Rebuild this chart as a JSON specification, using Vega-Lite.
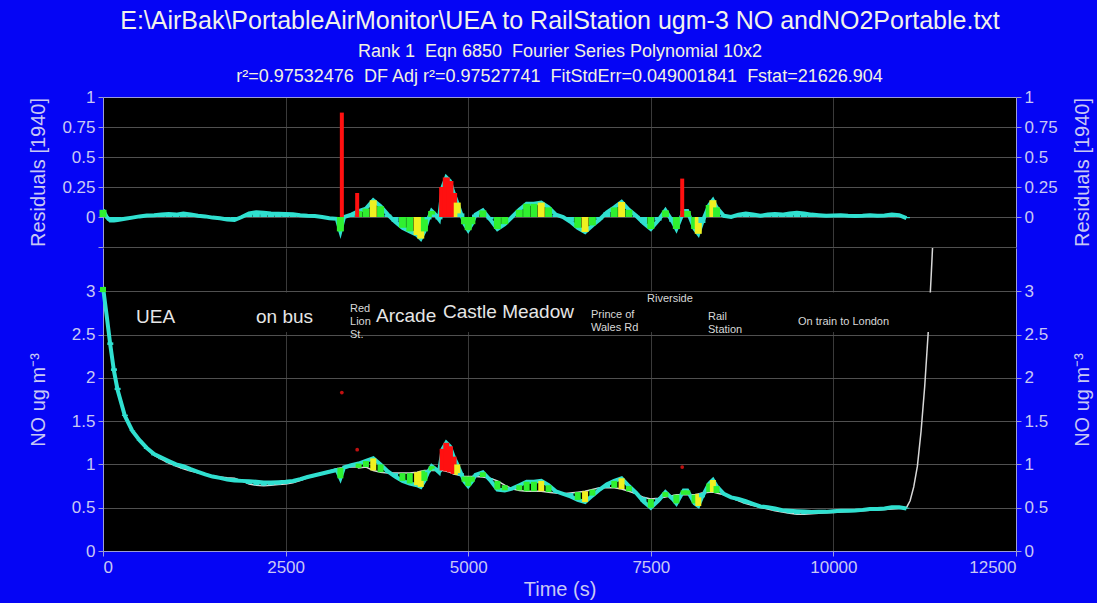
{
"$schema": "https://vega.github.io/schema/vega-lite/v6.json",
"background": "#0505f5",
"padding": {"left": 28, "top": 9, "right": 5, "bottom": 4},
"spacing": 0,
"config": {
  "font": "Liberation Sans",
  "view": {"fill": "#000000", "stroke": null},
  "axis": {"labelColor": "#c8c8f4", "titleColor": "#c8c8f4", "labelFontSize": 17, "titleFontSize": 20, "titleFontWeight": "normal", "domainColor": "#9c9cd8", "tickColor": "#9c9cd8", "gridColor": "#505050", "gridWidth": 1, "labelFont": "Liberation Sans", "titleFont": "Liberation Sans", "tickSize": 5, "labelPadding": 3}
},
"title": {"text": "E:\\AirBak\\PortableAirMonitor\\UEA to RailStation ugm-3 NO andNO2Portable.txt", "subtitle": "Rank 1 \u00a0Eqn 6850 \u00a0Fourier Series Polynomial 10x2", "fontSize": 25, "fontWeight": "normal", "color": "#f2f2ea", "subtitleFontSize": 18, "subtitleColor": "#f2f2e0", "subtitlePadding": 9, "anchor": "middle", "offset": 7, "font": "Liberation Sans", "subtitleFont": "Liberation Sans"},
"datasets": {
  "d": [
    {"t":0,"y":3.05,"f":2.99,"r":0.06},
    {"t":50,"y":2.72,"f":2.72,"r":0},
    {"t":100,"y":2.38,"f":2.41,"r":-0.03},
    {"t":150,"y":2.08,"f":2.11,"r":-0.03},
    {"t":200,"y":1.86,"f":1.885,"r":-0.025},
    {"t":300,"y":1.56,"f":1.575,"r":-0.015},
    {"t":400,"y":1.39,"f":1.395,"r":-0.005},
    {"t":500,"y":1.28,"f":1.275,"r":0.005},
    {"t":600,"y":1.19,"f":1.178,"r":0.012},
    {"t":700,"y":1.12,"f":1.105,"r":0.015},
    {"t":800,"y":1.08,"f":1.06,"r":0.02},
    {"t":900,"y":1.04,"f":1.015,"r":0.025},
    {"t":1000,"y":1.0,"f":0.98,"r":0.02},
    {"t":1100,"y":0.98,"f":0.95,"r":0.03},
    {"t":1200,"y":0.945,"f":0.923,"r":0.022},
    {"t":1300,"y":0.915,"f":0.905,"r":0.01},
    {"t":1400,"y":0.885,"f":0.88,"r":0.005},
    {"t":1500,"y":0.86,"f":0.865,"r":-0.005},
    {"t":1600,"y":0.845,"f":0.855,"r":-0.01},
    {"t":1700,"y":0.825,"f":0.845,"r":-0.02},
    {"t":1800,"y":0.815,"f":0.84,"r":-0.025},
    {"t":1900,"y":0.81,"f":0.81,"r":0},
    {"t":2000,"y":0.805,"f":0.775,"r":0.03},
    {"t":2100,"y":0.8,"f":0.76,"r":0.04},
    {"t":2200,"y":0.79,"f":0.755,"r":0.035},
    {"t":2300,"y":0.79,"f":0.76,"r":0.03},
    {"t":2400,"y":0.795,"f":0.767,"r":0.028},
    {"t":2500,"y":0.8,"f":0.775,"r":0.025},
    {"t":2600,"y":0.81,"f":0.788,"r":0.022},
    {"t":2700,"y":0.83,"f":0.815,"r":0.015},
    {"t":2800,"y":0.855,"f":0.845,"r":0.01},
    {"t":2900,"y":0.875,"f":0.867,"r":0.008},
    {"t":3000,"y":0.895,"f":0.895,"r":0},
    {"t":3100,"y":0.915,"f":0.925,"r":-0.01},
    {"t":3200,"y":0.935,"f":0.95,"r":-0.015},
    {"t":3250,"y":0.84,"f":0.96,"r":-0.12},
    {"t":3270,"y":1.83,"f":0.96,"r":0.87,"iso":1},
    {"t":3300,"y":0.965,"f":0.965,"r":0},
    {"t":3400,"y":0.99,"f":0.97,"r":0.02},
    {"t":3480,"y":1.17,"f":0.97,"r":0.2,"iso":1},
    {"t":3500,"y":1.01,"f":0.96,"r":0.05},
    {"t":3600,"y":1.04,"f":0.97,"r":0.07},
    {"t":3700,"y":1.07,"f":0.93,"r":0.14},
    {"t":3800,"y":1.0,"f":0.91,"r":0.09},
    {"t":3900,"y":0.92,"f":0.9,"r":0.02},
    {"t":4000,"y":0.86,"f":0.9,"r":-0.04},
    {"t":4100,"y":0.81,"f":0.9,"r":-0.09},
    {"t":4200,"y":0.78,"f":0.9,"r":-0.12},
    {"t":4300,"y":0.76,"f":0.91,"r":-0.15},
    {"t":4350,"y":0.74,"f":0.92,"r":-0.18},
    {"t":4400,"y":0.81,"f":0.93,"r":-0.12},
    {"t":4450,"y":0.91,"f":0.93,"r":-0.02},
    {"t":4500,"y":0.98,"f":0.93,"r":0.05},
    {"t":4550,"y":0.95,"f":0.93,"r":0.02},
    {"t":4600,"y":0.91,"f":0.93,"r":-0.02},
    {"t":4650,"y":1.18,"f":0.93,"r":0.25},
    {"t":4700,"y":1.25,"f":0.92,"r":0.33},
    {"t":4750,"y":1.21,"f":0.91,"r":0.3},
    {"t":4800,"y":1.09,"f":0.89,"r":0.2},
    {"t":4850,"y":1.0,"f":0.88,"r":0.12},
    {"t":4900,"y":0.9,"f":0.87,"r":0.03},
    {"t":4950,"y":0.8,"f":0.86,"r":-0.06},
    {"t":5000,"y":0.75,"f":0.86,"r":-0.11},
    {"t":5050,"y":0.8,"f":0.86,"r":-0.06},
    {"t":5100,"y":0.88,"f":0.86,"r":0.02},
    {"t":5200,"y":0.91,"f":0.855,"r":0.055},
    {"t":5300,"y":0.82,"f":0.84,"r":-0.02},
    {"t":5400,"y":0.71,"f":0.81,"r":-0.1},
    {"t":5500,"y":0.7,"f":0.76,"r":-0.06},
    {"t":5600,"y":0.72,"f":0.72,"r":0},
    {"t":5700,"y":0.76,"f":0.7,"r":0.06},
    {"t":5800,"y":0.8,"f":0.69,"r":0.11},
    {"t":5900,"y":0.8,"f":0.69,"r":0.11},
    {"t":6000,"y":0.81,"f":0.69,"r":0.12},
    {"t":6100,"y":0.76,"f":0.68,"r":0.08},
    {"t":6200,"y":0.69,"f":0.67,"r":0.02},
    {"t":6300,"y":0.66,"f":0.66,"r":0},
    {"t":6400,"y":0.63,"f":0.67,"r":-0.04},
    {"t":6500,"y":0.59,"f":0.68,"r":-0.09},
    {"t":6600,"y":0.565,"f":0.69,"r":-0.125},
    {"t":6700,"y":0.64,"f":0.71,"r":-0.07},
    {"t":6800,"y":0.71,"f":0.73,"r":-0.02},
    {"t":6900,"y":0.77,"f":0.73,"r":0.04},
    {"t":7000,"y":0.81,"f":0.73,"r":0.08},
    {"t":7100,"y":0.84,"f":0.715,"r":0.125},
    {"t":7200,"y":0.75,"f":0.69,"r":0.06},
    {"t":7300,"y":0.67,"f":0.66,"r":0.01},
    {"t":7400,"y":0.57,"f":0.62,"r":-0.05},
    {"t":7500,"y":0.5,"f":0.6,"r":-0.1},
    {"t":7600,"y":0.58,"f":0.61,"r":-0.03},
    {"t":7700,"y":0.68,"f":0.625,"r":0.055},
    {"t":7800,"y":0.6,"f":0.64,"r":-0.04},
    {"t":7850,"y":0.55,"f":0.65,"r":-0.1},
    {"t":7930,"y":0.97,"f":0.65,"r":0.32,"iso":1},
    {"t":7950,"y":0.7,"f":0.65,"r":0.05},
    {"t":8000,"y":0.7,"f":0.65,"r":0.05},
    {"t":8100,"y":0.55,"f":0.65,"r":-0.1},
    {"t":8150,"y":0.52,"f":0.66,"r":-0.14},
    {"t":8200,"y":0.62,"f":0.67,"r":-0.05},
    {"t":8300,"y":0.78,"f":0.68,"r":0.1},
    {"t":8350,"y":0.82,"f":0.68,"r":0.14},
    {"t":8400,"y":0.75,"f":0.67,"r":0.08},
    {"t":8500,"y":0.66,"f":0.65,"r":0.01},
    {"t":8600,"y":0.62,"f":0.62,"r":0},
    {"t":8700,"y":0.6,"f":0.58,"r":0.02},
    {"t":8800,"y":0.575,"f":0.547,"r":0.028},
    {"t":8900,"y":0.545,"f":0.525,"r":0.02},
    {"t":9000,"y":0.515,"f":0.505,"r":0.01},
    {"t":9100,"y":0.505,"f":0.485,"r":0.02},
    {"t":9200,"y":0.49,"f":0.465,"r":0.025},
    {"t":9300,"y":0.47,"f":0.45,"r":0.02},
    {"t":9400,"y":0.465,"f":0.435,"r":0.03},
    {"t":9500,"y":0.46,"f":0.425,"r":0.035},
    {"t":9600,"y":0.455,"f":0.425,"r":0.03},
    {"t":9700,"y":0.45,"f":0.43,"r":0.02},
    {"t":9800,"y":0.452,"f":0.437,"r":0.015},
    {"t":9900,"y":0.452,"f":0.442,"r":0.01},
    {"t":10000,"y":0.458,"f":0.446,"r":0.012},
    {"t":10100,"y":0.465,"f":0.45,"r":0.015},
    {"t":10200,"y":0.465,"f":0.455,"r":0.01},
    {"t":10300,"y":0.468,"f":0.46,"r":0.008},
    {"t":10400,"y":0.475,"f":0.465,"r":0.01},
    {"t":10500,"y":0.485,"f":0.47,"r":0.015},
    {"t":10600,"y":0.485,"f":0.475,"r":0.01},
    {"t":10700,"y":0.492,"f":0.48,"r":0.012},
    {"t":10800,"y":0.505,"f":0.485,"r":0.02},
    {"t":10900,"y":0.505,"f":0.49,"r":0.015},
    {"t":11000,"y":0.49,"f":0.5,"r":-0.01},
    {"t":11050,"f":0.58},
    {"t":11100,"f":0.74},
    {"t":11150,"f":0.98},
    {"t":11200,"f":1.38},
    {"t":11250,"f":1.9},
    {"t":11300,"f":2.55},
    {"t":11340,"f":3.2},
    {"t":11380,"f":3.9}
  ],
  "labels": [
    {"t": 452, "v": 2.70, "text": "UEA", "kind": "big"},
    {"t": 2095, "v": 2.70, "text": "on bus", "kind": "big"},
    {"t": 3738, "v": 2.72, "text": "Arcade", "kind": "big"},
    {"t": 4655, "v": 2.76, "text": "Castle Meadow", "kind": "big"},
    {"t": 3382, "v": 2.79, "text": "Red\nLion\nSt.", "kind": "small"},
    {"t": 6681, "v": 2.73, "text": "Prince of\nWales Rd", "kind": "small"},
    {"t": 7448, "v": 2.91, "text": "Riverside", "kind": "small"},
    {"t": 8283, "v": 2.70, "text": "Rail\nStation", "kind": "small"},
    {"t": 9515, "v": 2.64, "text": "On train to London", "kind": "small"}
  ],
  "band": [
    {"t0": 200, "t1": 12500, "v0": 2.53, "v1": 2.985}
  ]
},
"vconcat": [
  {
    "width": 913, "height": 150,
    "title": {"text": "r²=0.97532476 \u00a0DF Adj r²=0.97527741 \u00a0FitStdErr=0.049001841 \u00a0Fstat=21626.904", "fontSize": 18, "fontWeight": "normal", "color": "#f2f2e0", "offset": 2, "anchor": "middle", "font": "Liberation Sans"},
    "data": {"name": "d"},
    "resolve": {"scale": {"y": "independent"}},
    "layer": [
      {
        "transform": [{"filter": "isValid(datum.r) && !datum.iso"}],
        "mark": {"type": "line", "color": "#30e0d0", "strokeWidth": 4},
        "encoding": {
          "x": {"field": "t", "type": "quantitative", "scale": {"domain": [0, 12500], "nice": false},
                "axis": {"orient": "top", "values": [0, 2500, 5000, 7500, 10000, 12500], "labels": false, "ticks": false, "title": null, "grid": true, "gridColor": "#3a3a3a"}},
          "y": {"field": "r", "type": "quantitative", "scale": {"domain": [-0.25, 1], "nice": false, "zero": false},
                "axis": {"orient": "right", "values": [0, 0.25, 0.5, 0.75, 1], "labelExpr": "'' + datum.value", "grid": false, "title": "Residuals [1940]", "titleX": 66, "titleAngle": 270, "titleBaseline": "middle"}}
        }
      },
      {
        "transform": [{"filter": "isValid(datum.r) && !datum.iso"}],
        "mark": {"type": "rule", "strokeWidth": 7},
        "encoding": {
          "x": {"field": "t", "type": "quantitative", "title": null},
          "y": {"field": "r", "type": "quantitative", "scale": {"domain": [-0.25, 1], "nice": false, "zero": false},
                "axis": {"orient": "left", "values": [-0.25, 0, 0.25, 0.5, 0.75, 1], "labelExpr": "datum.value < -0.2 ? '' : '' + datum.value", "grid": true, "title": "Residuals [1940]", "titleX": -65, "titleAngle": 270, "titleBaseline": "middle"}},
          "y2": {"datum": 0},
          "color": {"field": "r", "type": "quantitative", "legend": null,
                    "scale": {"type": "threshold", "domain": [-0.2, -0.12, -0.05, 0.05, 0.12, 0.2], "range": ["#ff1010", "#f0f020", "#30f030", "#30e0d0", "#30f030", "#f0f020", "#ff1010"]}}
        }
      },
      {
        "transform": [{"filter": "datum.iso == 1"}],
        "mark": {"type": "rule", "strokeWidth": 4, "color": "#ff1010"},
        "encoding": {
          "x": {"field": "t", "type": "quantitative", "title": null},
          "y": {"field": "r", "type": "quantitative", "scale": {"domain": [-0.25, 1], "nice": false, "zero": false}, "axis": null},
          "y2": {"datum": 0}
        }
      }
    ]
  },
  {
    "width": 913, "height": 303,
    "resolve": {"scale": {"y": "independent"}},
    "layer": [
      {
        "data": {"name": "d"},
        "mark": {"type": "line", "color": "#d8d8d8", "strokeWidth": 1.5, "clip": true},
        "encoding": {
          "x": {"field": "t", "type": "quantitative", "scale": {"domain": [0, 12500], "nice": false},
                "axis": {"orient": "bottom", "values": [0, 2500, 5000, 7500, 10000, 12500], "format": "d", "title": "Time (s)", "grid": true, "gridColor": "#3a3a3a", "titlePadding": 4}},
          "y": {"field": "f", "type": "quantitative", "scale": {"domain": [0, 3.5], "nice": false},
                "axis": {"orient": "right", "values": [0, 0.5, 1, 1.5, 2, 2.5, 3], "labelExpr": "'' + datum.value", "grid": false, "title": "NO ug m⁻³", "titleX": 66, "titleAngle": 270, "titleBaseline": "middle"}}
        }
      },
      {
        "data": {"name": "band"},
        "mark": {"type": "rect", "color": "#000000"},
        "encoding": {
          "x": {"field": "t0", "type": "quantitative", "title": "Time (s)"},
          "x2": {"field": "t1"},
          "y": {"field": "v0", "type": "quantitative", "scale": {"domain": [0, 3.5], "nice": false}, "axis": null},
          "y2": {"field": "v1"}
        }
      },
      {
        "data": {"name": "d"},
        "transform": [{"filter": "isValid(datum.y) && !datum.iso"}],
        "mark": {"type": "line", "color": "#30e0d0", "strokeWidth": 4},
        "encoding": {
          "x": {"field": "t", "type": "quantitative", "title": "Time (s)"},
          "y": {"field": "y", "type": "quantitative", "scale": {"domain": [0, 3.5], "nice": false},
                "axis": {"orient": "left", "values": [0, 0.5, 1, 1.5, 2, 2.5, 3], "labelExpr": "'' + datum.value", "grid": true, "title": "NO ug m⁻³", "titleX": -65, "titleAngle": 270, "titleBaseline": "middle"}}
        }
      },
      {
        "data": {"name": "d"},
        "transform": [{"filter": "isValid(datum.y) && !datum.iso"}],
        "mark": {"type": "rule", "strokeWidth": 6},
        "encoding": {
          "x": {"field": "t", "type": "quantitative", "title": "Time (s)"},
          "y": {"field": "y", "type": "quantitative", "scale": {"domain": [0, 3.5], "nice": false}, "axis": null},
          "y2": {"field": "f"},
          "color": {"field": "r", "type": "quantitative", "legend": null,
                    "scale": {"type": "threshold", "domain": [-0.2, -0.12, -0.05, 0.05, 0.12, 0.2], "range": ["#ff1010", "#f0f020", "#30f030", "#30e0d0", "#30f030", "#f0f020", "#ff1010"]}}
        }
      },
      {
        "data": {"name": "d"},
        "transform": [{"filter": "datum.iso == 1"}],
        "mark": {"type": "point", "shape": "circle", "filled": true, "size": 14, "color": "#c01010", "opacity": 1},
        "encoding": {
          "x": {"field": "t", "type": "quantitative", "title": "Time (s)"},
          "y": {"field": "y", "type": "quantitative", "scale": {"domain": [0, 3.5], "nice": false}, "axis": null}
        }
      },
      {
        "data": {"name": "labels"},
        "transform": [{"filter": "datum.kind == 'big'"}],
        "mark": {"type": "text", "align": "left", "baseline": "middle", "fontSize": 19, "color": "#e6e6e6", "font": "Liberation Sans"},
        "encoding": {
          "x": {"field": "t", "type": "quantitative", "title": "Time (s)"},
          "y": {"field": "v", "type": "quantitative", "scale": {"domain": [0, 3.5], "nice": false}, "axis": null},
          "text": {"field": "text"}
        }
      },
      {
        "data": {"name": "labels"},
        "transform": [{"filter": "datum.kind == 'small'"}],
        "mark": {"type": "text", "align": "left", "baseline": "middle", "fontSize": 11, "lineBreak": "\n", "lineHeight": 13, "color": "#d8d8d8", "font": "Liberation Sans"},
        "encoding": {
          "x": {"field": "t", "type": "quantitative", "title": "Time (s)"},
          "y": {"field": "v", "type": "quantitative", "scale": {"domain": [0, 3.5], "nice": false}, "axis": null},
          "text": {"field": "text"}
        }
      }
    ]
  }
]
}
